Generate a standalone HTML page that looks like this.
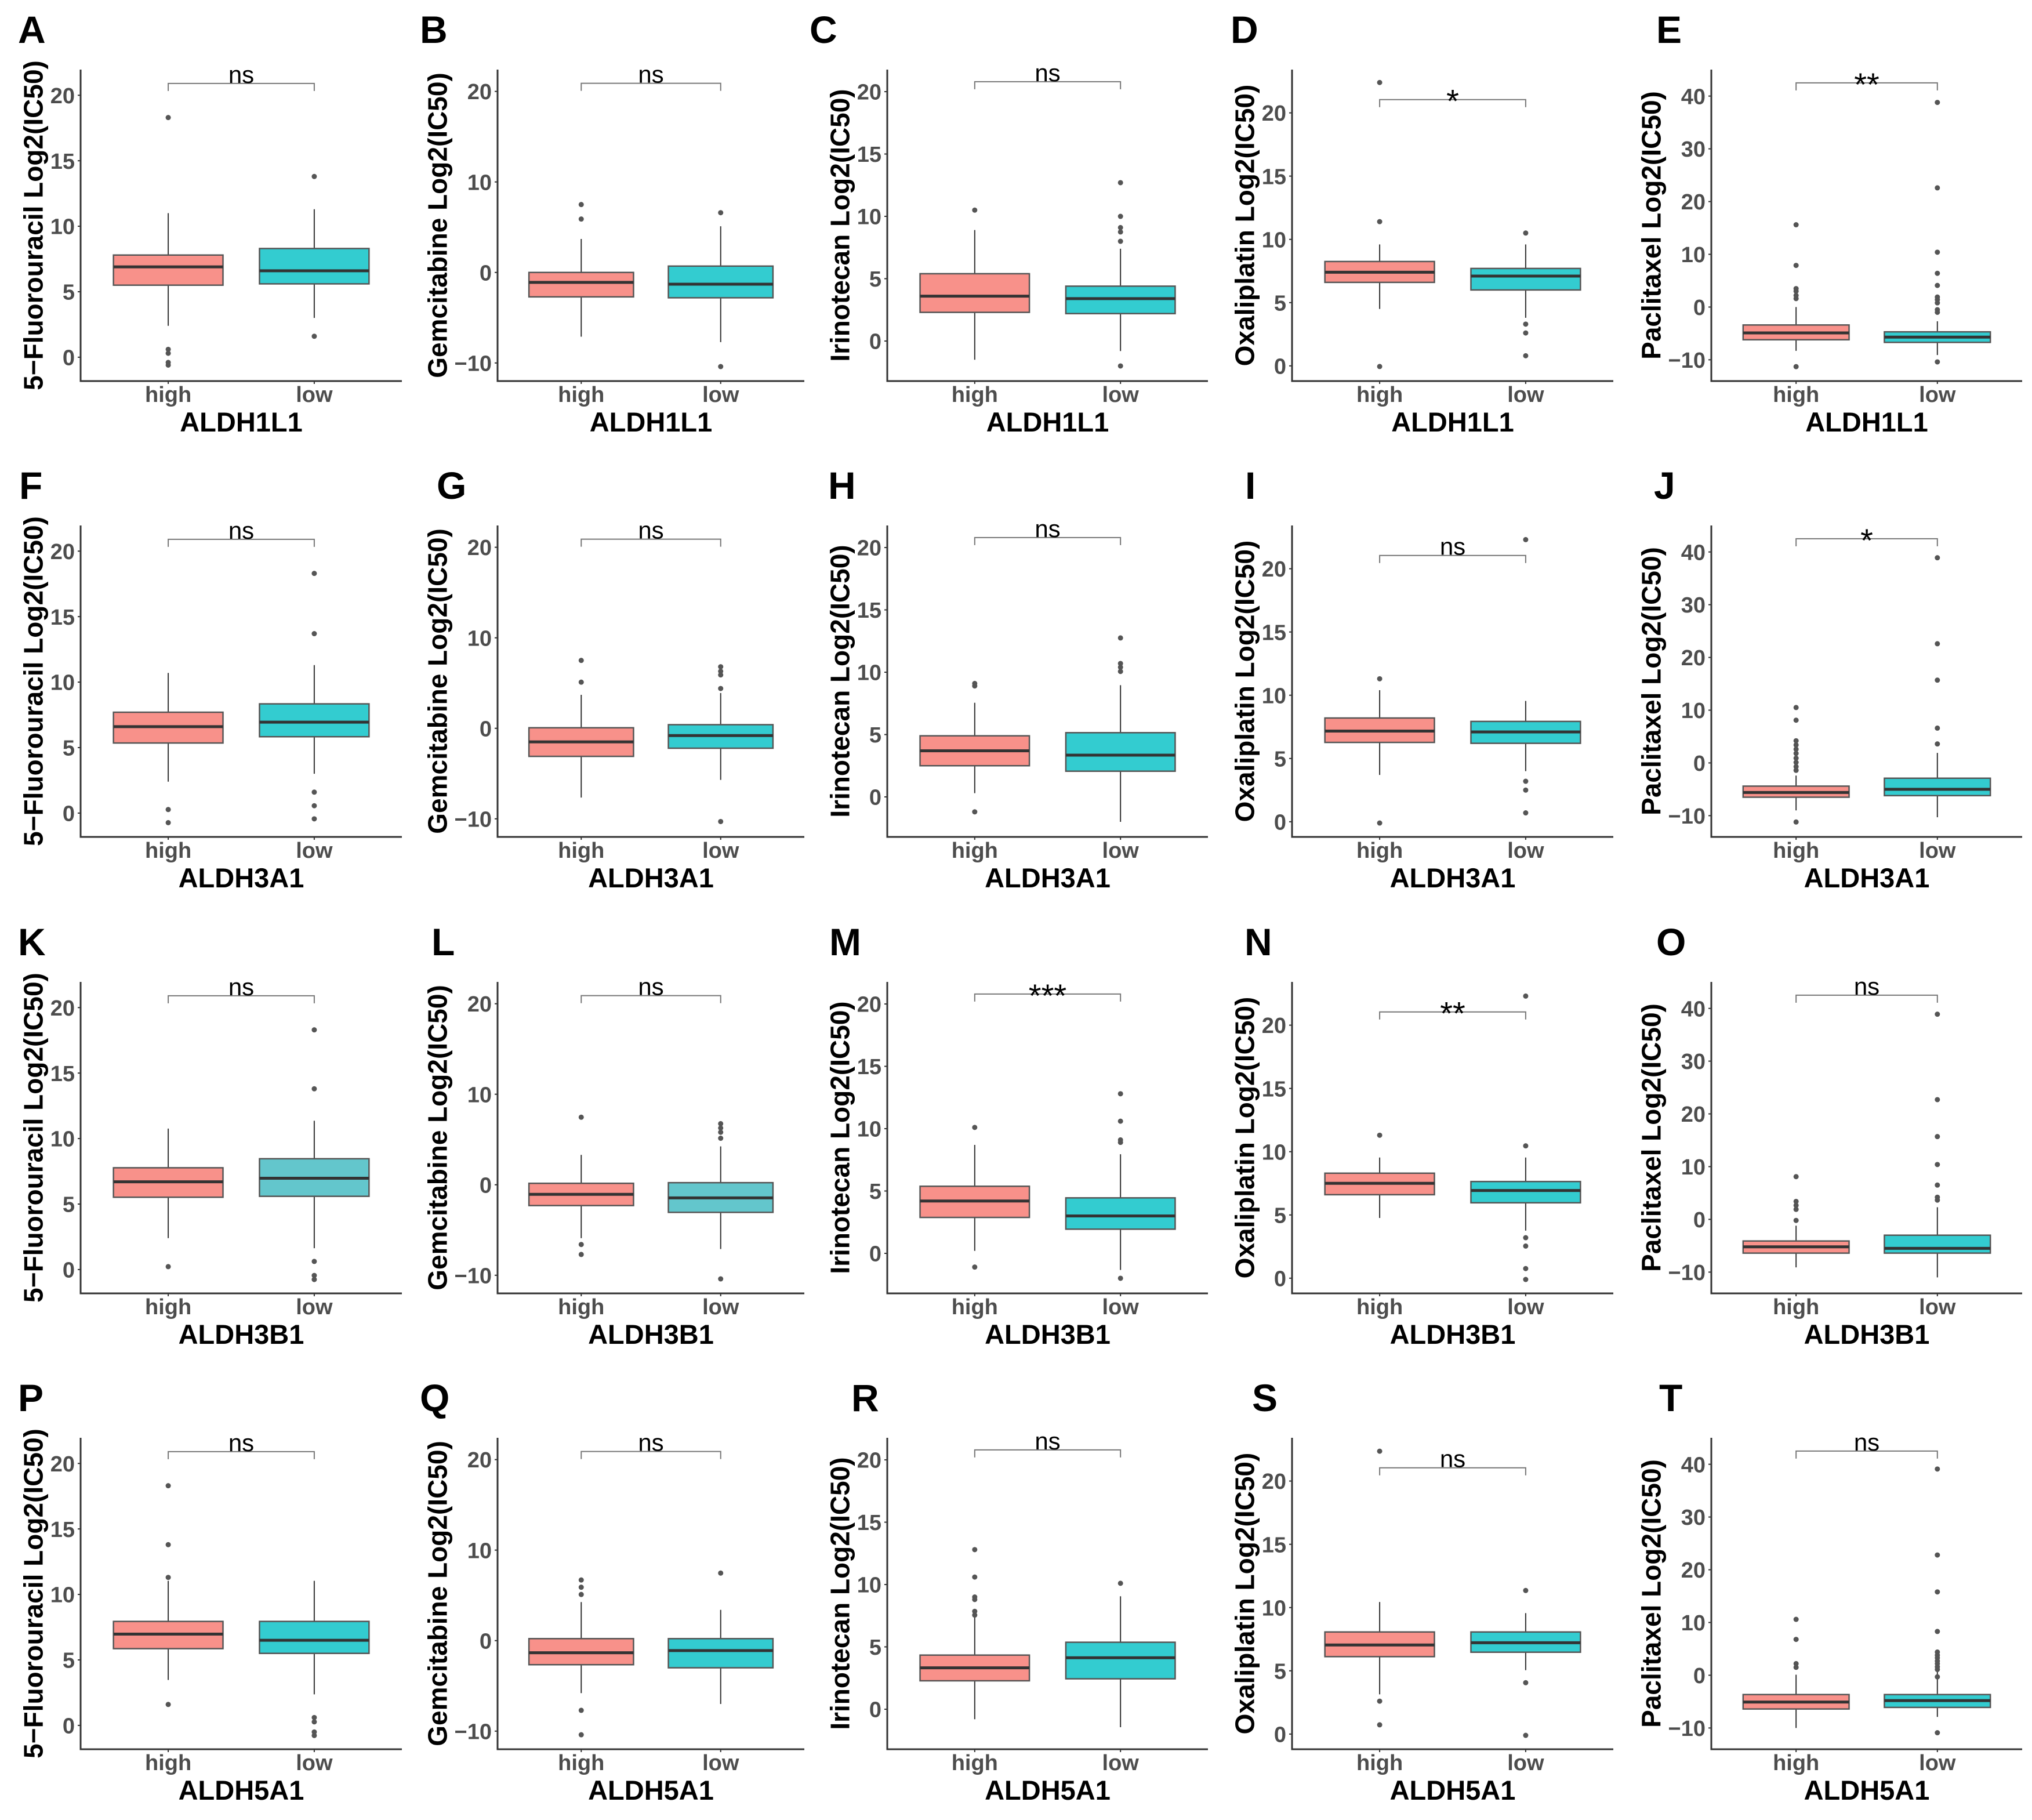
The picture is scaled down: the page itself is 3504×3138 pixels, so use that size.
<!DOCTYPE html>
<html>
<head>
<meta charset="utf-8">
<style>
html,body{margin:0;padding:0;background:#fff;}
svg{display:block;font-family:"Liberation Sans",Arial,sans-serif;}
</style>
</head>
<body>
<svg id="fig" width="3504" height="3138" viewBox="0 0 3504 3138" xmlns="http://www.w3.org/2000/svg"></svg>
<script>
// ---- data ----
const panelLetters = ["A","B","C","D","E","F","G","H","I","J","K","L","M","N","O","P","Q","R","S","T"];
const genes = ["ALDH1L1","ALDH3A1","ALDH3B1","ALDH5A1"];
const drugs = ["5\u2212Fluorouracil","Gemcitabine","Irinotecan","Oxaliplatin","Paclitaxel"];
const groups = ["high","low"];
const drugTicks = [[0,5,10,15,20],[-10,0,10,20],[0,5,10,15,20],[0,5,10,15,20],[-10,0,10,20,30,40]];
const drugDomain = [[-1.82,21.96],[-12.0,22.41],[-3.21,21.77],[-1.2,23.42],[-14.03,45.02]];
const bracketValue = [20.9,20.9,20.8,21.05,42.5];
const signif = ["ns","ns","ns","*","**","ns","ns","ns","ns","*","ns","ns","***","**","ns","ns","ns","ns","ns","ns"];
// [q1, median, q3, whiskerLow, whiskerHigh]
const statsHigh = [
 [5.5,6.9,7.8,2.4,11.0],[-2.7,-1.1,0.0,-7.1,3.7],[2.3,3.6,5.4,-1.5,8.9],[6.6,7.4,8.25,4.5,9.6],[-6.2,-4.9,-3.4,-8.3,0],
 [5.35,6.6,7.7,2.4,10.7],[-3.1,-1.5,0.06,-7.65,3.7],[2.5,3.7,4.9,0.3,7.55],[6.27,7.17,8.2,3.7,10.4],[-6.5,-5.6,-4.4,-9.0,-2.4],
 [5.52,6.7,7.77,2.4,10.76],[-2.3,-1.06,0.16,-5.9,3.3],[2.88,4.2,5.38,0.2,8.7],[6.6,7.5,8.3,4.76,9.54],[-6.4,-5.2,-4.1,-9.1,-1.2],
 [5.86,6.97,7.94,3.47,11.04],[-2.66,-1.34,0.22,-5.8,4.26],[2.28,3.32,4.34,-0.8,7.39],[6.12,7.04,8.07,3.14,10.44],[-6.4,-5.08,-3.66,-10,0.1]
];
const statsLow = [
 [5.6,6.6,8.3,3.0,11.3],[-2.8,-1.3,0.7,-7.7,5.1],[2.2,3.4,4.4,-0.8,7.4],[6.0,7.1,7.7,3.8,9.6],[-6.7,-5.7,-4.7,-9.1,-2.7],
 [5.83,6.94,8.34,3.0,11.3],[-2.2,-0.8,0.4,-5.7,3.9],[2.06,3.35,5.15,-2.0,8.96],[6.2,7.1,7.93,4.0,9.55],[-6.2,-5.0,-2.9,-10.3,1.9],
 [5.59,6.97,8.46,1.63,11.36],[-3.05,-1.45,0.23,-7.1,4.24],[1.94,3.0,4.45,-1.33,7.95],[5.96,6.93,7.64,3.76,9.54],[-6.4,-5.5,-3.0,-11.0,2.3],
 [5.5,6.5,7.94,2.37,11.04],[-3.0,-1.1,0.22,-7.0,3.4],[2.44,4.13,5.37,-1.44,9.06],[6.47,7.22,8.07,5.05,9.56],[-6.1,-4.8,-3.66,-7.9,2.3]
];
const outHigh = [
 [18.3,0.6,0.3,-0.4,-0.6],[7.5,5.9],[10.5],[22.4,11.4,-0.05],[15.6,7.9,3.5,3.0,2.2,1.6,-11.3],
 [0.27,-0.73],[7.5,5.1],[9.1,8.9,-1.2],[11.3,-0.1],[10.5,8.1,4.2,3.4,2.6,1.8,0.9,0.1,-0.7,-1.4,-11.2],
 [0.22],[7.46,-6.6,-7.7],[10.1,-1.1],[11.3],[8.1,3.4,2.65,1.9,-0.2],
 [18.3,13.8,11.3,1.6],[6.7,5.9,5.1,-7.7,-10.4],[12.8,10.6,9.0,8.8,7.85,7.55],[22.36,2.6,0.73],[10.6,6.8,2.2,1.5]
];
const outLow = [
 [13.8,1.6],[6.6,-10.4],[12.7,10.0,9.1,8.75,8.0,-2.0],[10.5,3.3,2.6,0.8],[38.8,22.6,10.4,6.4,4.1,1.9,1.4,0.8,-0.5,-1.0,-10.4],
 [18.3,13.7,1.6,0.56,-0.44],[6.8,6.3,5.9,4.4,-10.3],[12.75,10.7,10.4,10.06],[22.3,3.2,2.5,0.7],[38.9,22.6,15.7,6.6,3.6],
 [18.3,13.8,0.62,-0.45,-0.76],[6.75,6.27,5.8,5.14,-10.4],[12.8,10.6,9.1,8.9,-2.0],[22.3,10.46,3.2,2.54,0.76,-0.1],[38.9,22.7,15.7,10.4,6.5,4.2,3.65],
 [0.6,0.27,-0.5,-0.77],[7.46],[10.1],[11.35,4.06,-0.1],[39.1,22.8,15.8,8.3,4.4,3.8,3.3,2.7,2.2,1.6,1.1,-0.3,-10.9]
];

// ---- layout ----
const colAxisX = [139,858,1530,2228,2951];
const colRightX = [693,1387,2083,2782,3487];
const rowTop = [0,786,1573,2359];
const letterX = [31,724,1396,2122,2856,33,753,1428,2147,2852,31,744,1430,2146,2856,31,724,1468,2159,2861];
const COL_HIGH="#F8918A", COL_LOW="#33CCD0", COL_LOW_ALT="#63C6CC";
const NS="http://www.w3.org/2000/svg";
const svg=document.getElementById('fig');
function mk(tag,attrs,parent){const e=document.createElementNS(NS,tag);for(const k in attrs)e.setAttribute(k,attrs[k]);(parent||svg).appendChild(e);return e;}

for(let p=0;p<20;p++){
  const r=Math.floor(p/5), c=p%5;
  const top=rowTop[r]+120, bot=rowTop[r]+657, x0=colAxisX[c], x1=colRightX[c];
  const dom=drugDomain[c];
  const yS=v=>bot-(v-dom[0])/(dom[1]-dom[0])*(bot-top);
  const xS=i=>x0+(i+1-0.4)/2.2*(x1-x0);
  const bw=0.75/2.2*(x1-x0);
  const g=mk('g',{});
  
  

  const L=mk('text',{x:letterX[p],y:rowTop[r]+74,'font-size':66,'font-weight':'bold',fill:'#000'},g);
  L.textContent=panelLetters[p];
  
  

  // y ticks
  let maxW=0;
  drugTicks[c].forEach(t=>{
    const y=yS(t);
    const tk=mk('line',{x1:x0-5,x2:x0,y1:y,y2:y,stroke:'#333','stroke-width':2},g);
    
    
    const tl=mk('text',{x:x0-10,y:y+13.6,'font-size':38,'font-weight':'bold',fill:'#4D4D4D','text-anchor':'end'},g);
    tl.textContent=(t<0?'\u2212':'')+Math.abs(t);
    
    
    try{maxW=Math.max(maxW,tl.getComputedTextLength());}catch(e){maxW=42;}
  });
  const tx=x0-10-maxW-29, ty=(top+bot)/2;
  const yt=mk('text',{x:tx,y:ty,'font-size':46,'font-weight':'bold',fill:'#000','text-anchor':'middle','dominant-baseline':'central',transform:`rotate(-90 ${tx} ${ty})`},g);
  yt.textContent=drugs[c]+' Log2(IC50)';
  
  

  // boxes
  [statsHigh[p],statsLow[p]].forEach((s,i)=>{
    const cx=xS(i);
    const fill=i===0?COL_HIGH:((r===2&&(c===0||c===1))?COL_LOW_ALT:COL_LOW);
    const w1=mk('line',{x1:cx,x2:cx,y1:yS(s[4]),y2:yS(s[2]),stroke:'#333','stroke-width':2},g);
    
    
    const w2=mk('line',{x1:cx,x2:cx,y1:yS(s[0]),y2:yS(s[3]),stroke:'#333','stroke-width':2},g);
    
    
    const b=mk('rect',{x:cx-bw/2,y:yS(s[2]),width:bw,height:yS(s[0])-yS(s[2]),fill:fill,stroke:'#555','stroke-width':2.5},g);
    
    
    const m=mk('line',{x1:cx-bw/2,x2:cx+bw/2,y1:yS(s[1]),y2:yS(s[1]),stroke:'#333','stroke-width':5},g);
    
    
    (i===0?outHigh[p]:outLow[p]).forEach(v=>{
      const d=mk('circle',{cx:cx,cy:yS(v),r:4.5,fill:'#555'},g);
      
      
    });
    const xl=mk('text',{x:cx,y:bot+36,'font-size':38,'font-weight':'bold',fill:'#4D4D4D','text-anchor':'middle'},g);
    xl.textContent=groups[i];
    
    
    const xt=mk('line',{x1:cx,x2:cx,y1:bot,y2:bot+5,stroke:'#333','stroke-width':2},g);
    
    
  });

  // axes
  const ax=mk('path',{d:`M${x0},${top} V${bot} H${x1}`,fill:'none',stroke:'#333','stroke-width':3},g);
  
  

  const xtitle=mk('text',{x:(x0+x1)/2,y:bot+87,'font-size':47,'font-weight':'bold',fill:'#000','text-anchor':'middle'},g);
  xtitle.textContent=genes[r];
  
  

  // significance bracket
  const by=yS(bracketValue[c]), bx0=xS(0), bx1=xS(1);
  const br=mk('path',{d:`M${bx0},${by+13} V${by} H${bx1} V${by+13}`,fill:'none',stroke:'#777','stroke-width':2},g);
  
  
  const isStar=signif[p]!=='ns';
  const st=mk('text',{x:(bx0+bx1)/2,y:isStar?by+22:by-1,'font-size':isStar?56:42,fill:'#000','text-anchor':'middle'},g);
  st.textContent=signif[p];
  
  
}
</script>
</body>
</html>
